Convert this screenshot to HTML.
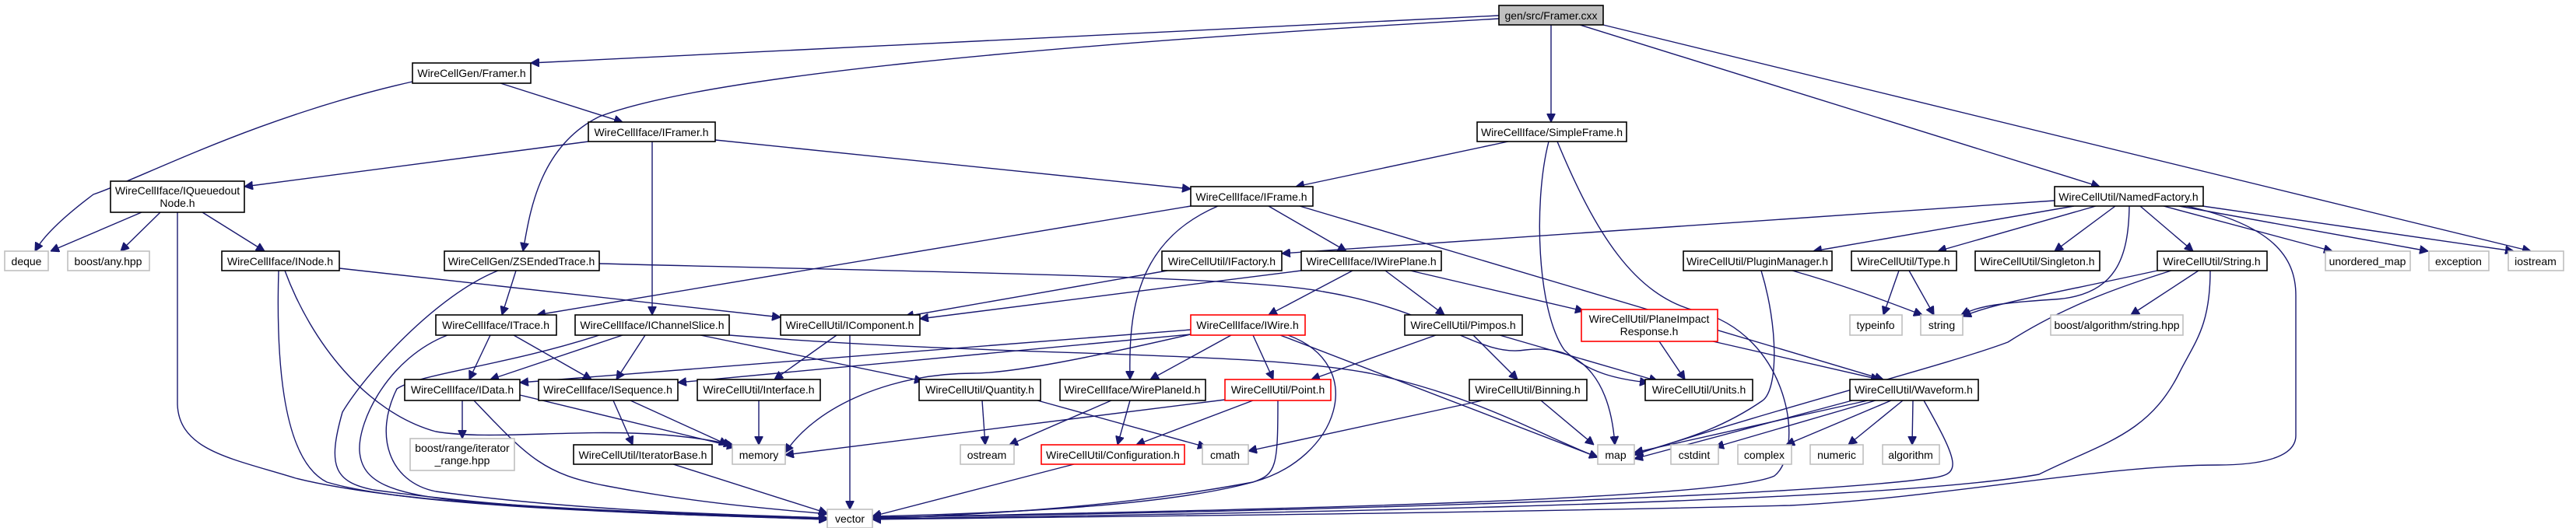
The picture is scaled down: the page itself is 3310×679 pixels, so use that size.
<!DOCTYPE html>
<html><head><meta charset="utf-8"><style>
html,body{margin:0;padding:0;background:#fff;}
svg{display:block;}
text{font-family:"Liberation Sans",sans-serif;font-size:14px;fill:#000;}
.e{fill:none;stroke:#191970;stroke-width:1.4;}
.n rect{fill:#fff;stroke:#000;stroke-width:1.6;}
.g rect{fill:#fff;stroke:#bfbfbf;stroke-width:1.6;}
.r rect{fill:#fff;stroke:#ff0000;stroke-width:1.6;}
</style></head><body>
<svg width="3310" height="679" viewBox="0 0 3310 679" xmlns="http://www.w3.org/2000/svg">
<defs>
<marker id="a" viewBox="0 0 10 10" refX="10" refY="5" markerWidth="11" markerHeight="11" markerUnits="userSpaceOnUse" orient="auto">
<path d="M0,0 L10,5 L0,10 z" fill="#191970" stroke="#191970"/>
</marker>
</defs>
<g marker-end="url(#a)">
<!-- Framer.cxx -->
<path class="e" d="M1926,20 L682,81"/>
<path class="e" d="M1926,24 C1300,60 900,100 770,150 C690,190 680,280 672,323"/>
<path class="e" d="M1993,32 L1993,157"/>
<path class="e" d="M2030,32 L2698,240"/>
<path class="e" d="M2060,32 L3252,323"/>
<!-- GenFramer -->
<path class="e" d="M530,105 C330,150 180,230 120,250 C80,280 55,305 45,323"/>
<path class="e" d="M643,107 L800,157"/>
<!-- IFramer -->
<path class="e" d="M756,182 L314,240"/>
<path class="e" d="M919,180 L1530,243"/>
<path class="e" d="M838,182 L838,405"/>
<!-- SimpleFrame -->
<path class="e" d="M1938,182 L1665,240"/>
<path class="e" d="M1990,182 C1970,260 1975,400 2010,450 C2040,480 2080,488 2118,492"/>
<path class="e" d="M2001,182 C2050,300 2100,380 2180,400 C2300,430 2320,580 2280,612 C2200,650 1300,660 1121,666"/>
<!-- IQueuedoutNode -->
<path class="e" d="M182,273 L65,323"/>
<path class="e" d="M206,273 L155,323"/>
<path class="e" d="M260,273 L340,323"/>
<path class="e" d="M228,273 L228,520 C230,580 300,590 380,615 C520,650 800,660 1063,667"/>
<!-- IFrame -->
<path class="e" d="M1530,265 L690,405"/>
<path class="e" d="M1565,265 C1460,310 1450,400 1452,488"/>
<path class="e" d="M1630,265 L1730,323"/>
<path class="e" d="M1670,265 L2420,488"/>
<!-- NamedFactory -->
<path class="e" d="M2640,258 L1647,326"/>
<path class="e" d="M2665,265 L2330,323"/>
<path class="e" d="M2693,265 L2490,323"/>
<path class="e" d="M2718,265 L2640,323"/>
<path class="e" d="M2736,265 C2735,330 2720,380 2640,385 C2560,390 2540,395 2520,405"/>
<path class="e" d="M2750,265 L2818,323"/>
<path class="e" d="M2780,265 L2997,323"/>
<path class="e" d="M2800,265 L3120,323"/>
<path class="e" d="M2830,265 L3230,323"/>
<path class="e" d="M2810,265 C2920,290 2950,330 2950,380 L2950,560 C2950,590 2900,598 2850,598 C2700,598 2500,640 2300,650 C1800,662 1400,664 1121,668"/>
<!-- INode -->
<path class="e" d="M436,345 L1003,408"/>
<path class="e" d="M366,348 C400,440 470,530 560,555 C650,570 800,540 941,572"/>
<path class="e" d="M358,348 C355,450 360,590 420,620 C520,650 800,660 1063,668"/>
<!-- ZSEndedTrace -->
<path class="e" d="M663,348 L645,405"/>
<path class="e" d="M770,339 C1200,350 1600,355 1700,375 C1850,400 1900,460 1960,450 C2040,440 2070,500 2075,572"/>
<path class="e" d="M640,348 C560,380 470,480 440,530 C420,600 430,620 480,630 C700,660 900,662 1063,668"/>
<!-- IFactory / IWirePlane -->
<path class="e" d="M1500,348 L1163,407"/>
<path class="e" d="M1672,348 L1182,410"/>
<path class="e" d="M1738,348 L1630,405"/>
<path class="e" d="M1780,348 L1856,405"/>
<path class="e" d="M1812,348 L2035,400"/>
<!-- PluginManager / Type / String -->
<path class="e" d="M2263,348 C2285,420 2285,500 2265,515 C2200,560 2140,570 2100,585"/>
<path class="e" d="M2303,348 C2380,370 2430,390 2470,405"/>
<path class="e" d="M2440,348 L2420,405"/>
<path class="e" d="M2453,348 L2485,405"/>
<path class="e" d="M2772,348 C2650,375 2560,390 2522,407"/>
<path class="e" d="M2790,348 C2720,370 2650,395 2580,440 C2500,470 2300,520 2100,585"/>
<path class="e" d="M2825,348 L2738,405"/>
<path class="e" d="M2840,348 C2840,420 2820,440 2800,480 C2760,560 2700,570 2620,610 C2400,650 1500,662 1121,667"/>
<!-- ITrace -->
<path class="e" d="M630,431 L603,488"/>
<path class="e" d="M660,431 L760,488"/>
<path class="e" d="M575,431 C500,460 460,540 462,580 C465,620 500,635 600,645 C800,660 950,662 1063,667"/>
<!-- IChannelSlice -->
<path class="e" d="M800,431 L630,488"/>
<path class="e" d="M829,431 L792,488"/>
<path class="e" d="M900,431 L1186,490"/>
<path class="e" d="M937,431 C1300,460 1600,450 1760,480 C1900,510 1980,560 2053,588"/>
<path class="e" d="M770,431 C650,470 540,480 510,500 C480,560 500,620 560,632 C750,658 950,662 1063,666"/>
<!-- IComponent -->
<path class="e" d="M1075,431 L995,488"/>
<path class="e" d="M1092,431 L1092,655"/>
<!-- IWire -->
<path class="e" d="M1530,424 L668,492"/>
<path class="e" d="M1530,430 L871,492"/>
<path class="e" d="M1530,430 C1400,460 1300,480 1250,480 C1150,480 1050,520 1009,582"/>
<path class="e" d="M1582,431 L1478,488"/>
<path class="e" d="M1610,431 L1636,488"/>
<path class="e" d="M1645,431 L2053,588"/>
<path class="e" d="M1655,431 C1760,470 1720,590 1610,620 C1450,650 1300,660 1121,667"/>
<!-- Pimpos -->
<path class="e" d="M1845,431 L1685,488"/>
<path class="e" d="M1893,431 L1950,488"/>
<path class="e" d="M1927,431 L2130,490"/>
<!-- PlaneImpactResponse -->
<path class="e" d="M2132,439 L2165,488"/>
<path class="e" d="M2201,439 L2415,488"/>
<!-- Quantity / WirePlaneId / Point -->
<path class="e" d="M1262,515 L1266,572"/>
<path class="e" d="M1333,515 L1550,575"/>
<path class="e" d="M1428,515 L1297,572"/>
<path class="e" d="M1452,515 L1436,572"/>
<path class="e" d="M1574,514 L1009,585"/>
<path class="e" d="M1610,515 L1460,572"/>
<path class="e" d="M1642,515 C1642,600 1640,610 1610,620 C1500,650 1300,660 1121,664"/>
<!-- Binning -->
<path class="e" d="M1905,515 L1604,580"/>
<path class="e" d="M1980,515 L2048,572"/>
<!-- Waveform -->
<path class="e" d="M2400,515 L2100,582"/>
<path class="e" d="M2380,515 L2100,590"/>
<path class="e" d="M2410,515 L2204,575"/>
<path class="e" d="M2430,515 L2295,572"/>
<path class="e" d="M2445,515 L2375,572"/>
<path class="e" d="M2458,515 L2457,572"/>
<path class="e" d="M2472,515 C2520,600 2520,610 2480,615 C2300,640 1600,660 1121,665"/>
<!-- IData / ISequence / Interface -->
<path class="e" d="M594,515 L594,564"/>
<path class="e" d="M668,508 L945,575"/>
<path class="e" d="M609,515 C680,590 700,610 780,625 C900,648 1000,655 1063,661"/>
<path class="e" d="M810,515 L935,572"/>
<path class="e" d="M788,515 L813,572"/>
<path class="e" d="M975,515 L975,572"/>
<path class="e" d="M865,597 L1063,660"/>
<path class="e" d="M1380,597 L1121,664"/>
</g>
<!-- nodes -->
<g class="n" style="">
<rect x="1926" y="7" width="134" height="25" style="fill:#bfbfbf"/><text x="1993" y="25" text-anchor="middle">gen/src/Framer.cxx</text>
</g>
<g class="n">
<rect x="530" y="81" width="152" height="26"/><text x="606" y="99" text-anchor="middle">WireCellGen/Framer.h</text>
<rect x="756" y="157" width="163" height="25"/><text x="837" y="175" text-anchor="middle">WireCellIface/IFramer.h</text>
<rect x="1898" y="157" width="192" height="25"/><text x="1994" y="175" text-anchor="middle">WireCellIface/SimpleFrame.h</text>
<rect x="142" y="233" width="172" height="40"/><text x="228" y="250" text-anchor="middle">WireCellIface/IQueuedout</text><text x="228" y="266" text-anchor="middle">Node.h</text>
<rect x="1530" y="240" width="157" height="25"/><text x="1608" y="258" text-anchor="middle">WireCellIface/IFrame.h</text>
<rect x="2640" y="240" width="191" height="25"/><text x="2735" y="258" text-anchor="middle">WireCellUtil/NamedFactory.h</text>
<rect x="285" y="323" width="151" height="25"/><text x="360" y="341" text-anchor="middle">WireCellIface/INode.h</text>
<rect x="571" y="323" width="199" height="25"/><text x="670" y="341" text-anchor="middle">WireCellGen/ZSEndedTrace.h</text>
<rect x="1493" y="323" width="154" height="25"/><text x="1570" y="341" text-anchor="middle">WireCellUtil/IFactory.h</text>
<rect x="1672" y="323" width="180" height="25"/><text x="1762" y="341" text-anchor="middle">WireCellIface/IWirePlane.h</text>
<rect x="2163" y="323" width="191" height="25"/><text x="2258" y="341" text-anchor="middle">WireCellUtil/PluginManager.h</text>
<rect x="2379" y="323" width="135" height="25"/><text x="2446" y="341" text-anchor="middle">WireCellUtil/Type.h</text>
<rect x="2538" y="323" width="160" height="25"/><text x="2618" y="341" text-anchor="middle">WireCellUtil/Singleton.h</text>
<rect x="2772" y="323" width="141" height="25"/><text x="2842" y="341" text-anchor="middle">WireCellUtil/String.h</text>
<rect x="560" y="405" width="155" height="26"/><text x="637" y="423" text-anchor="middle">WireCellIface/ITrace.h</text>
<rect x="739" y="405" width="198" height="26"/><text x="838" y="423" text-anchor="middle">WireCellIface/IChannelSlice.h</text>
<rect x="1003" y="405" width="179" height="26"/><text x="1092" y="423" text-anchor="middle">WireCellUtil/IComponent.h</text>
<rect x="1805" y="405" width="151" height="26"/><text x="1880" y="423" text-anchor="middle">WireCellUtil/Pimpos.h</text>
<rect x="520" y="488" width="148" height="27"/><text x="594" y="506" text-anchor="middle">WireCellIface/IData.h</text>
<rect x="692" y="488" width="179" height="27"/><text x="781" y="506" text-anchor="middle">WireCellIface/ISequence.h</text>
<rect x="896" y="488" width="158" height="27"/><text x="975" y="506" text-anchor="middle">WireCellUtil/Interface.h</text>
<rect x="1181" y="488" width="156" height="27"/><text x="1259" y="506" text-anchor="middle">WireCellUtil/Quantity.h</text>
<rect x="1362" y="488" width="187" height="27"/><text x="1455" y="506" text-anchor="middle">WireCellIface/WirePlaneId.h</text>
<rect x="1888" y="488" width="151" height="27"/><text x="1963" y="506" text-anchor="middle">WireCellUtil/Binning.h</text>
<rect x="2114" y="488" width="138" height="27"/><text x="2183" y="506" text-anchor="middle">WireCellUtil/Units.h</text>
<rect x="2377" y="488" width="165" height="27"/><text x="2459" y="506" text-anchor="middle">WireCellUtil/Waveform.h</text>
<rect x="737" y="572" width="178" height="25"/><text x="826" y="590" text-anchor="middle">WireCellUtil/IteratorBase.h</text>
</g>
<g class="r">
<rect x="1530" y="405" width="147" height="26"/><text x="1603" y="423" text-anchor="middle">WireCellIface/IWire.h</text>
<rect x="2032" y="398" width="175" height="41"/><text x="2119" y="415" text-anchor="middle">WireCellUtil/PlaneImpact</text><text x="2119" y="431" text-anchor="middle">Response.h</text>
<rect x="1574" y="488" width="136" height="27"/><text x="1642" y="506" text-anchor="middle">WireCellUtil/Point.h</text>
<rect x="1338" y="572" width="184" height="25"/><text x="1430" y="590" text-anchor="middle">WireCellUtil/Configuration.h</text>
</g>
<g class="g">
<rect x="6" y="323" width="56" height="25"/><text x="34" y="341" text-anchor="middle">deque</text>
<rect x="87" y="323" width="105" height="25"/><text x="139" y="341" text-anchor="middle">boost/any.hpp</text>
<rect x="2988" y="323" width="109" height="25"/><text x="3042" y="341" text-anchor="middle">unordered_map</text>
<rect x="3121" y="323" width="77" height="25"/><text x="3159" y="341" text-anchor="middle">exception</text>
<rect x="3223" y="323" width="71" height="25"/><text x="3258" y="341" text-anchor="middle">iostream</text>
<rect x="2377" y="405" width="67" height="26"/><text x="2410" y="423" text-anchor="middle">typeinfo</text>
<rect x="2468" y="405" width="54" height="26"/><text x="2495" y="423" text-anchor="middle">string</text>
<rect x="2635" y="405" width="170" height="26"/><text x="2720" y="423" text-anchor="middle">boost/algorithm/string.hpp</text>
<rect x="527" y="564" width="134" height="41"/><text x="594" y="581" text-anchor="middle">boost/range/iterator</text><text x="594" y="597" text-anchor="middle">_range.hpp</text>
<rect x="941" y="572" width="68" height="25"/><text x="975" y="590" text-anchor="middle">memory</text>
<rect x="1234" y="572" width="69" height="25"/><text x="1268" y="590" text-anchor="middle">ostream</text>
<rect x="1545" y="572" width="59" height="25"/><text x="1574" y="590" text-anchor="middle">cmath</text>
<rect x="2053" y="572" width="47" height="25"/><text x="2076" y="590" text-anchor="middle">map</text>
<rect x="2147" y="572" width="61" height="25"/><text x="2177" y="590" text-anchor="middle">cstdint</text>
<rect x="2233" y="572" width="69" height="25"/><text x="2267" y="590" text-anchor="middle">complex</text>
<rect x="2326" y="572" width="68" height="25"/><text x="2360" y="590" text-anchor="middle">numeric</text>
<rect x="2419" y="572" width="73" height="25"/><text x="2455" y="590" text-anchor="middle">algorithm</text>
<rect x="1063" y="655" width="58" height="24"/><text x="1092" y="672" text-anchor="middle">vector</text>
</g>
</svg>
</body></html>
